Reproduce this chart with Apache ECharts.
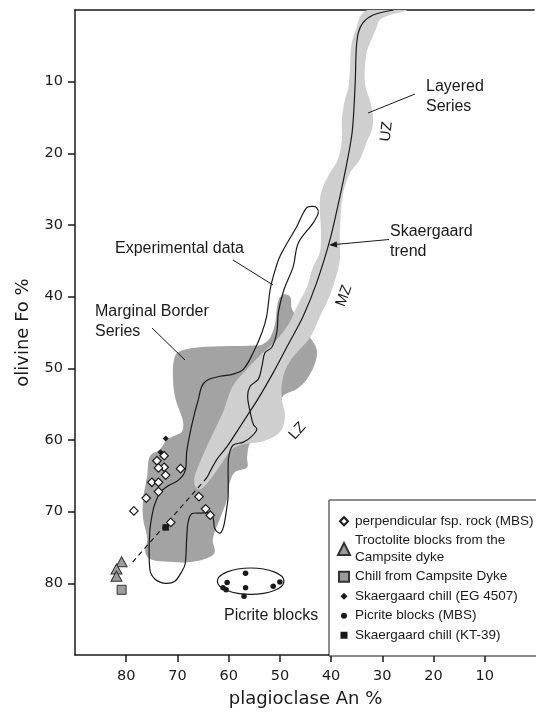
<!DOCTYPE html>
<html>
<head>
<meta charset="utf-8">
<script src="https://cdn.jsdelivr.net/npm/echarts@6/dist/echarts.min.js"></script>
<style>
html,body{margin:0;padding:0;background:#fff;}
#chart{width:536px;height:713px;}
</style>
</head>
<body>
<div id="chart"></div>
<script>
// ---------------- data (An %, Fo %) ----------------
const anRange = [0, 90];   // axis extent, An %
const foRange = [0, 90];   // axis extent, Fo %
const tickStep = 10;       // labelled ticks 80..10 on both axes

const perpendicularFsp = [
  [72.6, 62.2], [74.0, 62.9], [72.6, 63.8], [73.7, 63.9], [69.4, 64.0],
  [72.3, 64.9], [75.0, 65.9], [73.7, 65.9], [73.7, 67.2], [76.1, 68.1],
  [65.8, 67.9], [78.5, 69.9], [64.5, 69.6], [63.6, 70.5], [71.3, 71.5]
];
const troctoliteBlocks = [[80.9, 77.0], [81.9, 78.0], [81.9, 79.0]];
const campsiteChill = [[80.9, 80.9]];
const chillEG4507 = [[72.3, 59.8], [73.3, 61.7]];
const picriteMBS = [
  [56.7, 78.6], [60.3, 79.9], [61.1, 80.6], [60.5, 80.9],
  [56.7, 80.6], [57.0, 81.8], [51.3, 80.4], [50.0, 79.8]
];
const chillKT39 = [[72.3, 72.2]];

// centre An, centre Fo, half-width (An), half-height (Fo)
const picriteEllipse = [55.7, 79.7, 6.5, 1.84];

const layeredSeriesField = [
  [32.8, 0], [25.2, 0], [28.5, 0.7], [30.5, 1.4], [31.1, 2.4], [32.4, 4.6], [33.1, 6.0],
  [33.4, 10.2], [32.1, 13.5], [31.9, 16.3], [33.1, 18.5], [34.4, 20.9], [36.3, 22.7],
  [37.7, 25.8], [38.3, 31.1], [38.3, 34.8], [39.2, 37.6], [40.6, 40.4], [42.2, 42.8],
  [44.1, 45.7], [46.7, 47.8], [48.6, 49.7], [49.6, 52.0], [49.6, 54.3], [49.0, 56.7],
  [50.0, 58.9], [53.3, 60.2], [57.2, 60.6], [59.3, 61.3], [61.7, 63.6], [63.6, 65.5],
  [65.6, 66.9], [66.6, 66.4], [66.6, 65.0], [65.6, 63.1], [63.6, 59.9], [61.1, 56.1],
  [59.2, 52.5], [56.4, 50.1], [53.3, 47.8], [50.6, 46.0], [48.1, 43.6], [46.7, 41.4],
  [44.7, 38.6], [43.5, 35.8], [42.2, 33.8], [42.0, 30.6], [42.2, 28.3], [42.2, 26.5],
  [41.6, 24.7], [40.2, 22.7], [38.7, 20.9], [37.9, 18.1], [37.9, 15.3], [37.3, 12.5],
  [36.6, 10.7], [36.3, 7.9], [36.0, 4.6], [35.0, 2.4], [34.4, 1.0]
];

const marginalBorderField = [
  [70.5, 48.3], [69.5, 47.6], [66.2, 47.1], [59.7, 46.9], [55.2, 46.8], [53.5, 46.7],
  [51.9, 45.7], [50.9, 43.6], [50.4, 40.8], [49.4, 39.7], [48.0, 40.0], [47.6, 41.8],
  [44.1, 45.7], [42.8, 47.4], [43.1, 49.2], [44.7, 51.5], [46.7, 52.9], [49.4, 53.9],
  [55.8, 60.4], [56.4, 62.4], [56.4, 63.8], [58.8, 64.5], [59.9, 66.2], [60.3, 68.2],
  [61.7, 71.0], [63.1, 73.8], [62.7, 75.6], [63.6, 76.3], [67.0, 77.0], [71.5, 77.0],
  [75.4, 76.6], [76.3, 75.6], [75.9, 73.8], [76.7, 71.0], [76.7, 68.2], [75.9, 65.0],
  [75.4, 62.3], [73.4, 61.3], [72.0, 59.9], [70.9, 59.5], [69.1, 58.8], [68.9, 57.5],
  [69.5, 56.1], [70.5, 53.9], [70.9, 50.6]
];

const experimentalField = [
  [42.8, 27.6], [42.5, 28.3], [43.5, 29.7], [46.4, 32.5], [47.4, 35.8], [49.2, 39.0],
  [50.3, 42.2], [50.6, 45.0], [51.6, 47.1], [52.9, 47.8], [53.5, 49.7], [54.2, 51.5],
  [55.8, 52.5], [56.3, 53.9], [55.8, 56.1], [55.2, 57.8], [54.5, 58.5], [55.5, 59.5],
  [57.1, 60.3], [59.1, 60.7], [59.9, 62.0], [60.1, 63.6], [60.1, 67.8], [60.4, 69.6],
  [61.0, 72.1], [61.7, 73.0], [62.7, 72.4], [63.0, 71.0], [63.6, 70.2], [65.6, 70.2],
  [67.2, 70.3], [67.9, 71.4], [68.2, 73.8], [68.5, 77.3], [69.2, 78.4], [70.5, 79.7],
  [72.4, 80.0], [74.4, 79.4], [75.4, 78.0], [75.4, 72.8], [74.7, 69.6], [74.0, 68.2],
  [73.4, 67.3], [71.8, 66.4], [69.8, 65.6], [68.5, 64.3], [68.2, 61.7], [67.5, 58.9],
  [66.6, 56.1], [65.9, 54.3], [65.3, 52.6], [64.3, 51.7], [61.7, 51.1], [59.1, 50.8],
  [57.1, 50.1], [55.2, 47.8], [53.5, 45.0], [52.6, 42.8], [51.9, 39.0], [51.3, 37.2],
  [50.0, 34.4], [46.7, 30.2], [44.8, 27.6], [43.5, 27.4]
];

const skaergaardTrend = [
  [27.8, 0], [31.8, 0.7], [33.8, 1.8], [34.7, 3.2], [35.1, 5.6], [35.3, 10.2],
  [35.9, 17.1], [37.3, 22.7], [38.7, 27.4], [40.2, 32.0], [42.8, 38.0], [45.5, 42.8],
  [48.4, 46.7], [51.3, 50.6], [54.3, 54.3], [57.2, 57.5], [60.3, 60.9], [62.3, 62.7],
  [64.2, 65.2]
];
const trendExtension = [[64.2, 65.2], [79.3, 77.5]];

// ---------------- chart ----------------
const FONT_AX = 'DejaVu Sans';
const FONT_TX = 'Liberation Sans';
const INK = '#1a1a1a';

const chart = echarts.init(document.getElementById('chart'));

function areaSeries(name, pts, style, z) {
  return {
    type: 'custom', name: name, z: z, silent: true, clip: true,
    coordinateSystem: 'cartesian2d',
    encode: { x: 0, y: 1 },
    data: [pts[0]],
    renderItem: function (params, api) {
      return {
        type: 'polygon',
        shape: { points: pts.map(function (p) { return api.coord(p); }), smooth: 0.35 },
        style: style
      };
    }
  };
}

function scatter(name, data, symbol, size, fill, stroke, bw) {
  return {
    type: 'scatter', name: name, data: data, z: 6,
    symbol: symbol, symbolSize: size,
    itemStyle: { color: fill, borderColor: stroke, borderWidth: bw, opacity: 1 },
    emphasis: { disabled: true }
  };
}

const option = {
  backgroundColor: '#fff',
  animation: false,
  grid: { left: 75, right: 0, top: 10, bottom: 57 },
  xAxis: [{
    type: 'value', min: anRange[0], max: anRange[1], interval: tickStep, inverse: true, position: 'bottom',
    splitLine: { show: false },
    axisLine: { show: true, onZero: false, lineStyle: { color: INK, width: 1.5 } },
    name: 'plagioclase An %', nameLocation: 'middle', nameGap: 35,
    nameTextStyle: { fontFamily: FONT_AX, fontSize: 18, color: INK },
    axisTick: { show: true, inside: false, length: 7, lineStyle: { color: INK, width: 1.5 } },
    axisLabel: { showMinLabel: false, showMaxLabel: false, fontFamily: FONT_AX, fontSize: 14.5, color: INK, margin: 14 }
  }, {
    type: 'value', min: anRange[0], max: anRange[1], inverse: true, position: 'top',
    splitLine: { show: false },
    axisLine: { show: true, onZero: false, lineStyle: { color: INK, width: 1.5 } },
    axisTick: { show: false }, axisLabel: { show: false }
  }],
  yAxis: {
    type: 'value', min: foRange[0], max: foRange[1], interval: tickStep, inverse: true, position: 'left',
    splitLine: { show: false },
    axisLine: { show: true, onZero: false, lineStyle: { color: INK, width: 1.5 } },
    name: 'olivine Fo %', nameLocation: 'middle', nameGap: 43,
    nameTextStyle: { fontFamily: FONT_AX, fontSize: 18, color: INK },
    axisTick: { show: true, inside: false, length: 7, lineStyle: { color: INK, width: 1.5 } },
    axisLabel: { showMinLabel: false, showMaxLabel: false, fontFamily: FONT_AX, fontSize: 14.5, color: INK, margin: 12 }
  },
  legend: {
    left: 329, top: 500, orient: 'vertical', selectedMode: false,
    backgroundColor: '#fff', borderColor: INK, borderWidth: 1, borderRadius: 0,
    padding: [13, 30, 12.5, 8], itemGap: 3, itemWidth: 12, itemHeight: 12,
    textStyle: { fontFamily: FONT_TX, fontSize: 13.5, lineHeight: 16.5, color: INK },
    data: [
      { name: 'perpendicular fsp. rock (MBS)', icon: 'path://M0 0M12 12M6 2L10 6L6 10L2 6Z' },
      { name: 'Troctolite blocks from the\nCampsite dyke', icon: 'triangle' },
      { name: 'Chill from Campsite Dyke', icon: 'path://M0 0M12 12M1 1H11V11H1Z' },
      { name: 'Skaergaard chill (EG 4507)', icon: 'path://M0 0M12 12M6 2.5L9.5 6L6 9.5L2.5 6Z' },
      { name: 'Picrite blocks (MBS)', icon: 'path://M0 0M12 12M6 3A3 3 0 1 1 5.99 3Z' },
      { name: 'Skaergaard chill (KT-39)', icon: 'path://M0 0M12 12M2.5 2.5H9.5V9.5H2.5Z' }
    ]
  },
  graphic: [
    { type: 'text', x: 426, y: 97, z: 10, style: { text: 'Layered\nSeries', font: '16px "Liberation Sans"', fill: INK, align: 'left', verticalAlign: 'middle', lineHeight: 20 } },
    { type: 'line', z: 10, shape: { x1: 415, y1: 94, x2: 368, y2: 113 }, style: { stroke: INK, lineWidth: 1 } },
    { type: 'text', x: 390, y: 242, z: 10, style: { text: 'Skaergaard\ntrend', font: '16px "Liberation Sans"', fill: INK, align: 'left', verticalAlign: 'middle', lineHeight: 20 } },
    { type: 'line', z: 10, shape: { x1: 389, y1: 239.5, x2: 336, y2: 244.4 }, style: { stroke: INK, lineWidth: 1 } },
    { type: 'polygon', z: 10, shape: { points: [[329, 245], [337.2, 247.6], [336.7, 241.2]] }, style: { fill: INK } },
    { type: 'text', x: 115, y: 249, z: 10, style: { text: 'Experimental data', font: '16px "Liberation Sans"', fill: INK, align: 'left', verticalAlign: 'middle' } },
    { type: 'line', z: 10, shape: { x1: 233, y1: 260, x2: 273, y2: 285 }, style: { stroke: INK, lineWidth: 1 } },
    { type: 'text', x: 95, y: 322, z: 10, style: { text: 'Marginal Border\nSeries', font: '16px "Liberation Sans"', fill: INK, align: 'left', verticalAlign: 'middle', lineHeight: 20 } },
    { type: 'line', z: 10, shape: { x1: 152, y1: 328, x2: 185, y2: 360 }, style: { stroke: INK, lineWidth: 1 } },
    { type: 'text', x: 224, y: 616, z: 10, style: { text: 'Picrite blocks', font: '16px "Liberation Sans"', fill: INK, align: 'left', verticalAlign: 'middle' } },
    { type: 'text', x: 386.5, y: 131.5, rotation: 1.45, z: 10, style: { text: 'UZ', font: '15px "Liberation Sans"', fill: INK, align: 'center', verticalAlign: 'middle' } },
    { type: 'text', x: 344, y: 296, rotation: 1.22, z: 10, style: { text: 'MZ', font: '15px "Liberation Sans"', fill: INK, align: 'center', verticalAlign: 'middle' } },
    { type: 'text', x: 297.5, y: 431, rotation: 0.84, z: 10, style: { text: 'LZ', font: '15px "Liberation Sans"', fill: INK, align: 'center', verticalAlign: 'middle' } },
    // white strip beyond the plot's right edge (the original figure is cropped there)
    { type: 'rect', z: 20, silent: true, shape: { x: 534.6, y: 0, width: 4, height: 499 }, style: { fill: '#fff' } }
  ],
  series: [
    areaSeries('Marginal Border Series', marginalBorderField, { fill: '#a3a3a3', stroke: 'none' }, 1),
    areaSeries('Layered Series', layeredSeriesField, { fill: '#cfcfcf', stroke: 'none' }, 2),
    areaSeries('Experimental data', experimentalField, { fill: 'none', stroke: INK, lineWidth: 1.2 }, 3),
    {
      type: 'line', name: 'Skaergaard trend', data: skaergaardTrend, z: 3, smooth: 0.3,
      symbol: 'none', silent: true, clip: true,
      lineStyle: { color: INK, width: 1.2 }
    },
    {
      type: 'line', name: 'trend extension', data: trendExtension, z: 3,
      symbol: 'none', silent: true,
      lineStyle: { color: INK, width: 1.2, type: [5, 4] }
    },
    {
      type: 'custom', name: 'Picrite envelope', z: 4, silent: true,
      coordinateSystem: 'cartesian2d', encode: { x: 0, y: 1 },
      data: [[picriteEllipse[0], picriteEllipse[1]]],
      renderItem: function (params, api) {
        const c = api.coord([picriteEllipse[0], picriteEllipse[1]]);
        const s = api.size([picriteEllipse[2], picriteEllipse[3]], [picriteEllipse[0], picriteEllipse[1]]);
        return {
          type: 'ellipse',
          shape: { cx: c[0], cy: c[1], rx: Math.abs(s[0]), ry: Math.abs(s[1]) },
          style: { fill: 'none', stroke: INK, lineWidth: 1.2 }
        };
      }
    },
    scatter('perpendicular fsp. rock (MBS)', perpendicularFsp, 'diamond', 8.5, '#ffffff', INK, 1.2),
    scatter('Troctolite blocks from the\nCampsite dyke', troctoliteBlocks, 'triangle', [11, 10], '#9c9c9c', '#333', 1),
    scatter('Chill from Campsite Dyke', campsiteChill, 'rect', 9, '#9c9c9c', '#333', 1),
    scatter('Skaergaard chill (EG 4507)', chillEG4507, 'diamond', 6, INK, INK, 0),
    scatter('Picrite blocks (MBS)', picriteMBS, 'circle', 5.5, INK, INK, 0),
    scatter('Skaergaard chill (KT-39)', chillKT39, 'rect', 6.5, INK, INK, 0)
  ]
};

chart.setOption(option);
</script>
</body>
</html>
